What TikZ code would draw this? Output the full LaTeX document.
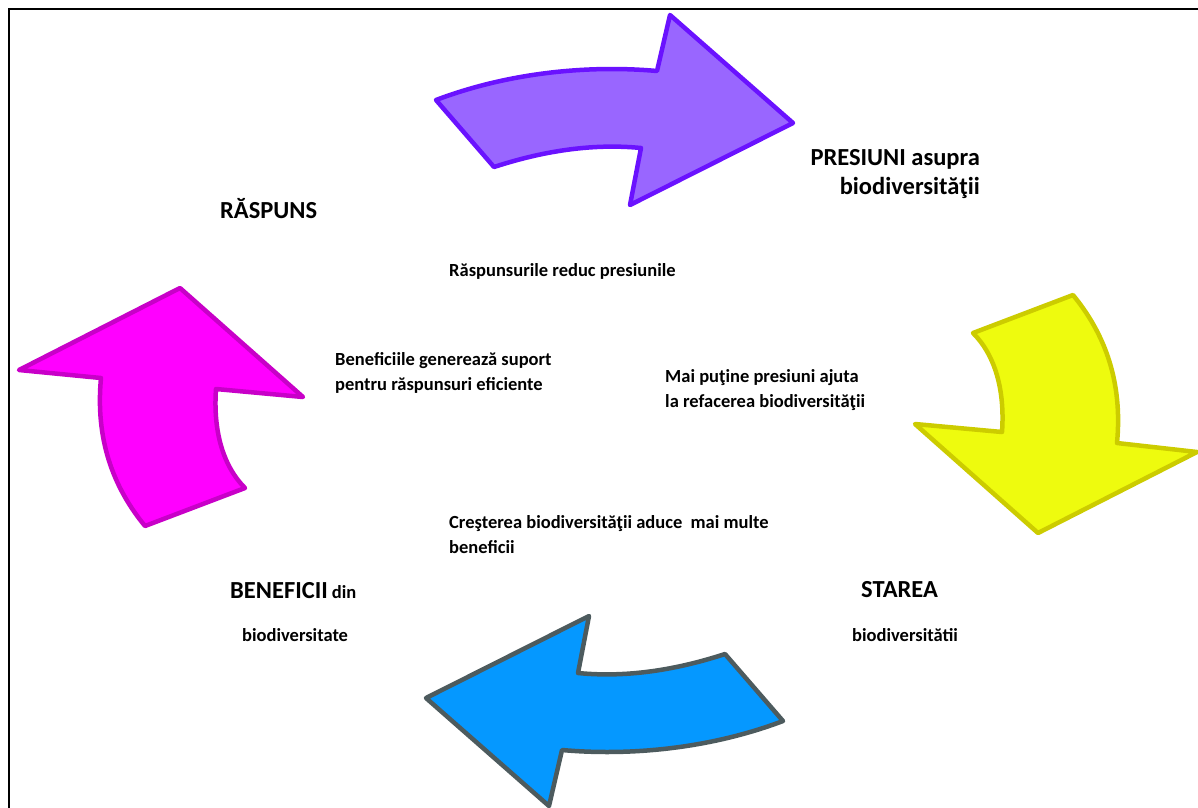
\documentclass[tikz,border=0pt]{standalone}
\usepackage{fontspec}
\setmainfont{Carlito}
\definecolor{lilac}{HTML}{9966FF}
\definecolor{lilacline}{HTML}{6A12FF}
\definecolor{lemon}{HTML}{EEFB0E}
\definecolor{lemonline}{HTML}{CCCC00}
\definecolor{pink}{HTML}{FF00FF}
\definecolor{pinkline}{HTML}{C800C8}
\definecolor{sky}{HTML}{0598FF}
\definecolor{skyline}{HTML}{4D5B5E}

\begin{document}
\begin{tikzpicture}[x=1pt, y=-1pt,
  arrowshape/.style = {line width=4.5pt, line join=round},
  smalltxt/.style = {font=\bfseries\fontsize{18.5}{25}\selectfont, inner sep=0pt, align=left},
  bigtxt/.style = {font=\bfseries\fontsize{24.5}{29}\selectfont, inner sep=0pt}]
  \useasboundingbox (0,0) rectangle (1198,807);
  % frame
  \draw[line width=2pt] (9,830) -- (9,9) -- (1220,9);

  % the four curved arrows
  \draw[arrowshape, draw=lilacline, fill=lilac]
    (436,100) -- (494,167) .. controls (540,152) and (590,143) .. (641,148)
    -- (630,205) -- (793,123) -- (670,15) -- (657,71)
    .. controls (590,65) and (510,72) .. (436,100) -- cycle;
  \draw[arrowshape, draw=lemonline, fill=lemon]
    (1073,295) -- (973,333) .. controls (995,355) and (1005,390) .. (1002,432)
    -- (915,424) -- (1038,533) -- (1197,452) -- (1117,443)
    .. controls (1122,390) and (1110,340) .. (1073,295) -- cycle;
  \draw[arrowshape, draw=skyline, fill=sky]
    (783,721) -- (725,654) .. controls (679,669) and (629,678) .. (578,673)
    -- (589,616) -- (426,698) -- (549,806) -- (562,750)
    .. controls (629,756) and (709,749) .. (783,721) -- cycle;
  \draw[arrowshape, draw=pinkline, fill=pink]
    (145,526) -- (245,488) .. controls (223,466) and (213,431) .. (216,389)
    -- (303,397) -- (180,288) -- (19,370) -- (101,378)
    .. controls (96,431) and (108,481) .. (145,526) -- cycle;

  % headings
  \node[bigtxt, anchor=base west] (raspuns) at (220,218) {RĂSPUNS};
  \node[bigtxt, anchor=base east, align=right] (presiuni) at (980,194)
    {PRESIUNI asupra\\biodiversităţii};
  \node[bigtxt, anchor=base west] (starea) at (861,597) {STAREA};
  \node[smalltxt, anchor=base west] (stareasub) at (852,641) {biodiversitătii};
  \node[smalltxt, anchor=base west] (beneficii) at (230,598)
    {{\fontsize{24.5}{29}\selectfont BENEFICII} din};
  \node[smalltxt, anchor=base west] (beneficiisub) at (242,641) {biodiversitate};

  % links between stages
  \node[smalltxt, anchor=base west] (reduc) at (449,276) {Răspunsurile reduc presiunile};
  \node[smalltxt, anchor=base west] (suport) at (335,390)
    {Beneficiile generează suport\\pentru răspunsuri eficiente};
  \node[smalltxt, anchor=base west] (refacere) at (665,407)
    {Mai puţine presiuni ajuta\\la refacerea biodiversităţii};
  \node[smalltxt, anchor=base west] (crestere) at (449,553)
    {Creşterea biodiversităţii aduce~ mai multe\\beneficii};
\end{tikzpicture}
\end{document}
